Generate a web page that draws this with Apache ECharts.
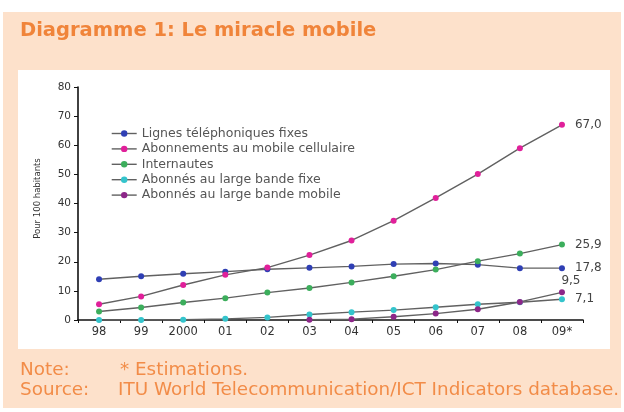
<!DOCTYPE html>
<html><head><meta charset="utf-8">
<script src="https://cdn.jsdelivr.net/npm/echarts@6/dist/echarts.min.js"></script>
<style>html,body{margin:0;padding:0;background:#fff}#c{width:624px;height:412px}</style>
</head><body><div id="c"></div>
<script>
const categories = ['98','99','2000','01','02','03','04','05','06','07','08','09*'];
const fixedLines = [14.0,15.0,15.9,16.6,17.4,17.9,18.4,19.2,19.4,19.0,17.8,17.8];
const mobileCell = [5.4,8.1,12.0,15.5,18.0,22.3,27.3,34.1,41.9,50.1,59.0,67.0];
const internetUsers = [2.9,4.3,6.0,7.5,9.4,11.0,12.9,15.0,17.3,20.2,22.8,25.9];
const fixedBroadband = [0.0,0.0,0.1,0.4,0.9,1.9,2.7,3.4,4.4,5.4,6.1,7.1];
const mobileBroadband = [null,null,null,null,null,0.1,0.3,1.1,2.2,3.7,6.2,9.5];
const seriesNames = ['Lignes téléphoniques fixes','Abonnements au mobile cellulaire','Internautes','Abonnés au large bande fixe','Abonnés au large bande mobile'];
const yTicks = {min:0,max:80,interval:10};

const colors = ['#2f3fb4','#e0209a','#3cae5c','#34c4cc','#8c2688'];
const labelPos = ['right','right','right','right','top'];
const datasets = [fixedLines,mobileCell,internetUsers,fixedBroadband,mobileBroadband];

const chart = echarts.init(document.getElementById('c'), null, {renderer:'canvas'});
const fmt = v => v.toFixed(1).replace('.', ',');
const series = datasets.map((d,i)=>({
  name: seriesNames[i], type:'line', data: d.map((v,j)=> j===d.length-1 ? {value:v,label:{show:true}} : v),
  symbol:'circle', symbolSize:6, showSymbol:true, connectNulls:false,
  lineStyle:{color:'#616161',width:1.4},
  itemStyle:{color:colors[i]},
  label:{show:false, position:labelPos[i], distance: labelPos[i]==='top'?2:10, offset: labelPos[i]==='top'?[9,0]:[0,0],
    formatter:p=>fmt(p.value), fontFamily:'DejaVu Sans', fontSize:12, color:'#444'},
  emphasis:{disabled:true}, animation:false, z:3
}));

const noteFont = '17px "DejaVu Sans"';
const noteColor = '#f28c48';
chart.setOption({
  animation:false,
  backgroundColor:'#ffffff',
  graphic:[
    {type:'rect', z:-10, shape:{x:3,y:12,width:618,height:396}, style:{fill:'#fde1cb'}},
    {type:'rect', z:-9, shape:{x:18,y:70,width:592,height:279}, style:{fill:'#ffffff'}},
    {type:'text', x:20, y:371, scaleX:1.08, style:{text:'Note:', fill:noteColor, font:noteFont, textVerticalAlign:'middle'}},
    {type:'text', x:120, y:371, scaleX:1.08, style:{text:'* Estimations.', fill:noteColor, font:noteFont, textVerticalAlign:'middle'}},
    {type:'text', x:20, y:391, scaleX:1.08, style:{text:'Source:', fill:noteColor, font:noteFont, textVerticalAlign:'middle'}},
    {type:'text', x:118, y:391, scaleX:1.08, style:{text:'ITU World Telecommunication/ICT Indicators database.', fill:noteColor, font:noteFont, textVerticalAlign:'middle'}}
  ],
  title:{text:'Diagramme 1: Le miracle mobile', left:15, top:16,
    textStyle:{color:'#f0843a', fontFamily:'DejaVu Sans', fontWeight:'bold', fontSize:19.5}},
  legend:{orient:'vertical', left:106, top:122, itemGap:2.4, itemWidth:25, itemHeight:8,
    textStyle:{fontFamily:'DejaVu Sans', fontSize:12.5, color:'#555', lineHeight:11},
    data: seriesNames,
    lineStyle:{color:'#616161', width:1.4}},
  grid:{left:78, right:41, top:87, bottom:92, containLabel:false},
  xAxis:{type:'category', data:categories, boundaryGap:true,
    axisLine:{lineStyle:{color:'#111', width:1.6}},
    axisTick:{show:true, length:3, lineStyle:{color:'#111'}},
    axisLabel:{fontFamily:'DejaVu Sans', fontSize:11.5, color:'#333', margin:6}},
  yAxis:{type:'value', min:yTicks.min, max:yTicks.max, interval:yTicks.interval,
    name:'Pour 100 habitants', nameLocation:'middle', nameGap:36, nameRotate:90,
    nameTextStyle:{fontFamily:'DejaVu Sans', fontSize:8.5, color:'#333', padding:[0,0,0,10]},
    splitLine:{show:false},
    axisLine:{show:true, lineStyle:{color:'#111', width:1.6}},
    axisTick:{show:true, length:4, lineStyle:{color:'#111'}},
    axisLabel:{fontFamily:'DejaVu Sans', fontSize:10.5, color:'#333', margin:7}},
  series: series
});
</script></body></html>
